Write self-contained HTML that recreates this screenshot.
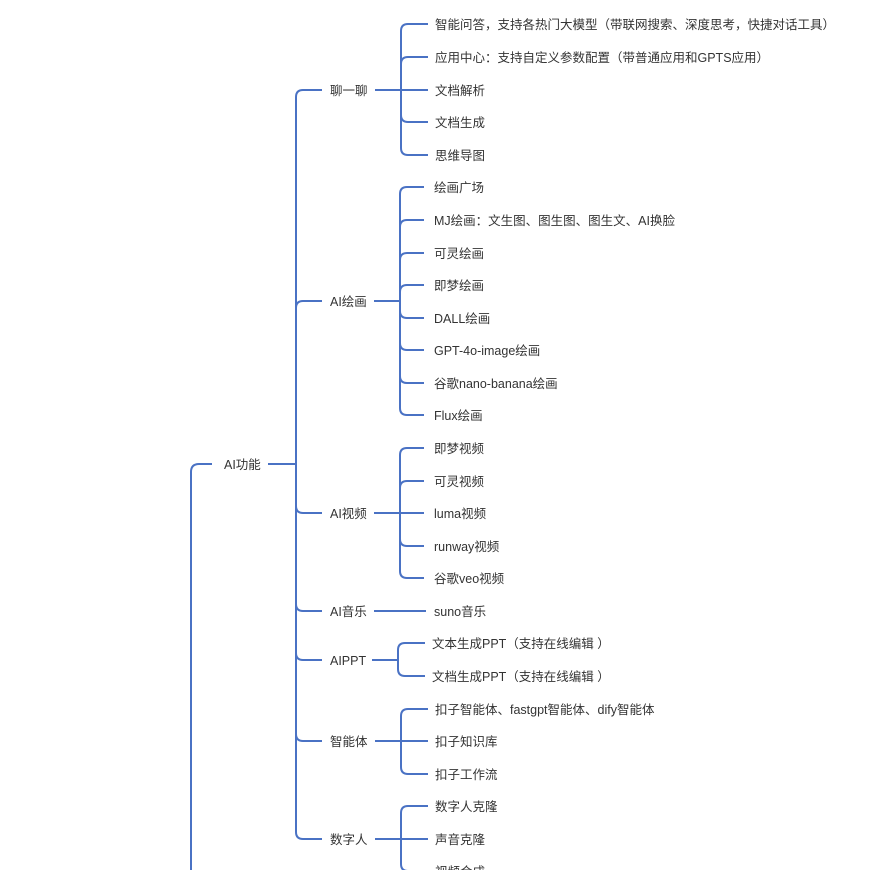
<!DOCTYPE html>
<html><head><meta charset="utf-8">
<style>
html,body{margin:0;padding:0;background:#fff;}
svg{display:block;}
text{font-family:"Liberation Sans","Noto Sans CJK SC",sans-serif;font-size:12.5px;fill:#333;dominant-baseline:central;}
</style></head>
<body>
<svg id="s" width="884" height="870" xmlns="http://www.w3.org/2000/svg"></svg>
<script>
const s=document.getElementById('s');
const C='#4a72c4';
let out='';
function path(d){out+=`<path d="${d}" fill="none" stroke="${C}" stroke-width="2"/>`;}
function txt(x,y,t){out+=`<text x="${x}" y="${y+1}">${t}</text>`;}
function conn(xt,py,cy,xe,r){
  r=r||7;
  if(Math.abs(cy-py)<1){path(`M${xt} ${py} L${xe} ${cy}`);return;}
  const dir=cy<py?-1:1;
  path(`M${xt} ${py} L${xt} ${cy-dir*r} Q${xt} ${cy} ${xt+r} ${cy} L${xe} ${cy}`);
}
path(`M191 870 L191 472 Q191 464 199 464 L212 464`);
txt(224,464,'AI功能');
path(`M268 464 L296 464`);
const groups=[
 ['聊一聊',90,375,401,428,435,[[24,'智能问答，支持各热门大模型（带联网搜索、深度思考，快捷对话工具）'],[57,'应用中心：支持自定义参数配置（带普通应用和GPTS应用）'],[90,'文档解析'],[122,'文档生成'],[155,'思维导图']]],
 ['AI绘画',301,374,400,424,434,[[187,'绘画广场'],[220,'MJ绘画：文生图、图生图、图生文、AI换脸'],[253,'可灵绘画'],[285,'即梦绘画'],[318,'DALL绘画'],[350,'GPT-4o-image绘画'],[383,'谷歌nano-banana绘画'],[415,'Flux绘画']]],
 ['AI视频',513,374,400,424,434,[[448,'即梦视频'],[481,'可灵视频'],[513,'luma视频'],[546,'runway视频'],[578,'谷歌veo视频']]],
 ['AI音乐',611,374,null,426,434,[[611,'suno音乐']]],
 ['AIPPT',660,372,398,425,432,[[643,'文本生成PPT（支持在线编辑 ）'],[676,'文档生成PPT（支持在线编辑 ）']]],
 ['智能体',741,375,401,428,435,[[709,'扣子智能体、fastgpt智能体、dify智能体'],[741,'扣子知识库'],[774,'扣子工作流']]],
 ['数字人',839,375,401,428,435,[[806,'数字人克隆'],[839,'声音克隆'],[871,'视频合成']]],
];
for(const g of groups){
  const [lab,y,x1,xt,xe,xl,ch]=g;
  conn(296,464,y,322);
  txt(330,y,lab);
  if(xt===null){path(`M${x1} ${y} L${xe} ${y}`);}
  else{
    path(`M${x1} ${y} L${xt} ${y}`);
    for(const [cy,t] of ch) conn(xt,y,cy,xe);
  }
  for(const [cy,t] of ch) txt(xl,cy,t);
}
s.innerHTML=out;
</script>
</body></html>
